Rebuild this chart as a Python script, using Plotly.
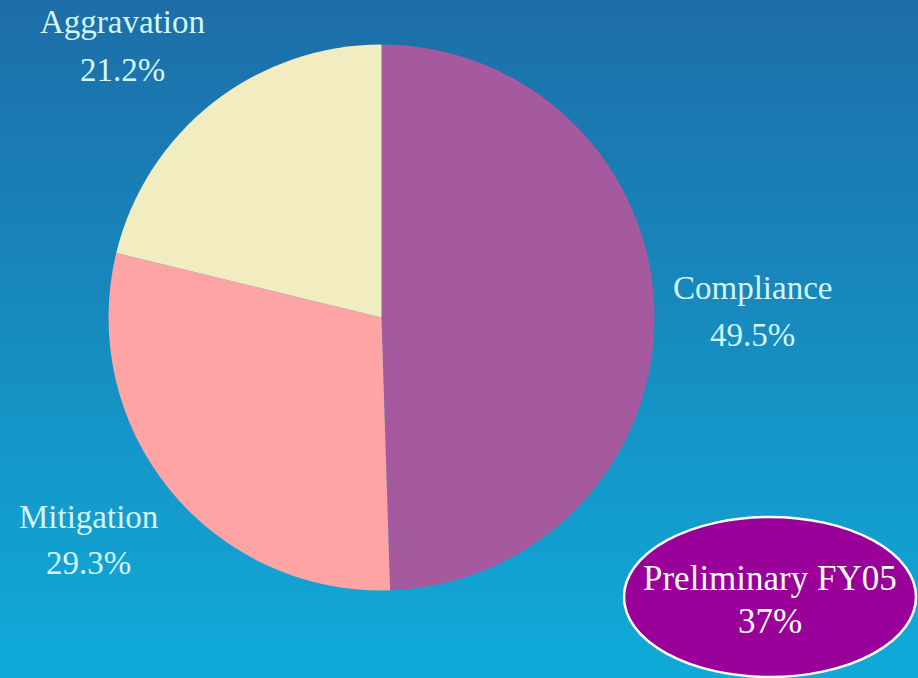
import plotly.graph_objects as go

categories = ["Compliance", "Mitigation", "Aggravation"]
values = [49.5, 29.3, 21.2]
slice_colors = ["#a55a9f", "#ffa4a4", "#f1edc0"]
badge_title = "Preliminary FY05"
badge_value = "37%"

W, H = 918, 678
cx, cy, r = 381.5, 317.5, 273

fig = go.Figure()
fig.add_trace(go.Pie(
    labels=categories, values=values, sort=False, direction="clockwise", rotation=0,
    marker=dict(colors=slice_colors, line=dict(width=0)),
    textinfo="none", hoverinfo="label+percent", showlegend=False,
    domain=dict(x=[(cx - r) / W, (cx + r) / W], y=[(H - cy - r) / H, (H - cy + r) / H]),
))

# gradient background with bands
shapes = []
n = 60
top = (29, 110, 168)
bot = (16, 170, 216)
for i in range(n):
    t = i / (n - 1)
    c = tuple(int(round(top[k] + (bot[k] - top[k]) * t)) for k in range(3))
    shapes.append(dict(type="rect", xref="paper", yref="paper",
                       x0=0, x1=1, y0=1 - (i + 1) / n, y1=1 - i / n + 0.001,
                       fillcolor="rgb(%d,%d,%d)" % c, line=dict(width=0), layer="below"))

# badge ellipse
ex, ey, rx, ry = 770, 597, 146, 80
shapes.append(dict(type="circle", xref="paper", yref="paper",
                   x0=(ex - rx) / W, x1=(ex + rx) / W,
                   y0=(H - ey - ry) / H, y1=(H - ey + ry) / H,
                   fillcolor="#990099", line=dict(color="white", width=2.5), layer="above"))

label_pos = {"Compliance": (752, 288, 335), "Mitigation": (88, 517, 563), "Aggravation": (122, 22, 70)}
lab_font = dict(family="Liberation Serif, Times New Roman, serif", size=33, color="#d4f6f8")
annotations = []
for name, v in zip(categories, values):
    x, y1, y2 = label_pos[name]
    annotations.append(dict(x=x / W, y=1 - y1 / H, xref="paper", yref="paper", text=name,
                            showarrow=False, font=lab_font, xanchor="center", yanchor="middle"))
    annotations.append(dict(x=x / W, y=1 - y2 / H, xref="paper", yref="paper", text=f"{v:.1f}%",
                            showarrow=False, font=lab_font, xanchor="center", yanchor="middle"))

badge_font = dict(family="Liberation Serif, Times New Roman, serif", size=35, color="white")
annotations.append(dict(x=ex / W, y=1 - 578 / H, xref="paper", yref="paper", text=badge_title,
                        showarrow=False, font=badge_font, xanchor="center", yanchor="middle"))
annotations.append(dict(x=ex / W, y=1 - 621 / H, xref="paper", yref="paper", text=badge_value,
                        showarrow=False, font=badge_font, xanchor="center", yanchor="middle"))

fig.update_layout(
    width=W, height=H, margin=dict(l=0, r=0, t=0, b=0),
    paper_bgcolor="rgb(22,140,192)", plot_bgcolor="rgba(0,0,0,0)",
    shapes=shapes, annotations=annotations,
)
fig.write_html("out.html", config={"displayModeBar": False},
               post_script="document.body.style.margin='0';document.body.style.overflow='hidden';")
